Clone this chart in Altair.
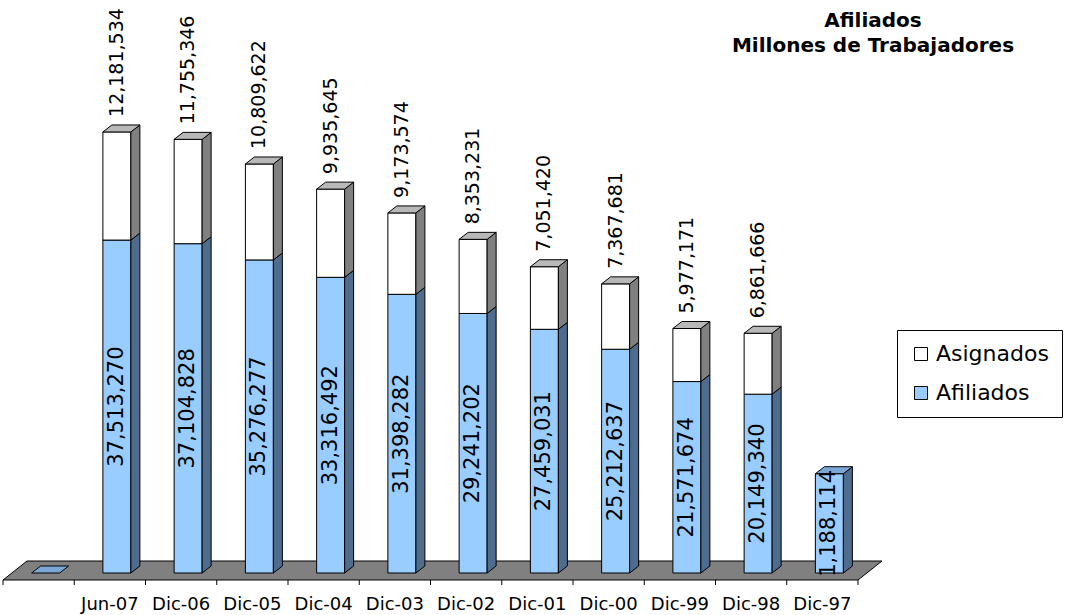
import altair as alt
import pandas as pd

# ---------------- data ----------------
categories = ["", "Jun-07", "Dic-06", "Dic-05", "Dic-04", "Dic-03", "Dic-02",
              "Dic-01", "Dic-00", "Dic-99", "Dic-98", "Dic-97"]
afiliados = [0, 37513270, 37104828, 35276277, 33316492, 31398282, 29241202,
             27459031, 25212637, 21571674, 20149340, 11188114]
asignados = [0, 12181534, 11755346, 10809622, 9935645, 9173574, 8353231,
             7051420, 7367681, 5977171, 6861666, 0]
afiliados_labels = ["", "37,513,270", "37,104,828", "35,276,277", "33,316,492",
                    "31,398,282", "29,241,202", "27,459,031", "25,212,637",
                    "21,571,674", "20,149,340", "1,188,114"]
asignados_labels = ["", "12,181,534", "11,755,346", "10,809,622", "9,935,645",
                    "9,173,574", "8,353,231", "7,051,420", "7,367,681",
                    "5,977,171", "6,861,666", ""]
series = ["Asignados", "Afiliados"]
title_lines = ["Afiliados", "Millones de Trabajadores"]

# ---------------- geometry / style ----------------
W, H = 1065, 580
PAD_BOTTOM = 35
PX_CAT = 71.25      # pixels per category
PX_M = 8.875        # pixels per million
X_LEFT = 3
Y_BASE = 573
XMIN = -X_LEFT / PX_CAT
XMAX = XMIN + W / PX_CAT
YMIN = -(H - Y_BASE) / PX_M
YMAX = YMIN + H / PX_M
FRONT_L = -7 / PX_CAT
FRONT_R = 21 / PX_CAT
DX = 9 / PX_CAT
DY = 7 / PX_M
FLOOR_DX = 24 / PX_CAT
FLOOR_DY = 19 / PX_M
LABEL_GAP = 15 / PX_M

BLUE = "#99CCFF"
BLUE_SIDE = "#4F6B8D"
BLUE_TOP = "#7BA7D6"
WHITE_SIDE = "#808080"
WHITE_TOP = "#B8B8B8"
FLOOR = "#808080"
FONT = "DejaVu Sans"

xs = alt.Scale(domain=[XMIN, XMAX], nice=False, zero=False)
ys = alt.Scale(domain=[YMIN, YMAX], nice=False, zero=False)

front, side, top, inner_lab, top_lab, cat_lab = [], [], [], [], [], []
seg_id = 0
for i, cat in enumerate(categories):
    c = i + 0.5
    a = afiliados[i] / 1e6
    s = asignados[i] / 1e6
    xl, xr = c + FRONT_L, c + FRONT_R
    segs = []
    if a > 0:
        segs.append(("Afiliados", 0.0, a, BLUE_SIDE))
    if s > 0:
        segs.append(("Asignados", a, a + s, WHITE_SIDE))
    for name, y0, y1, sc in segs:
        front.append(dict(series=name, x=xl, x2=xr, y=y0, y2=y1))
        side.append(dict(id=seg_id, fill=sc, x=xr, y=y0, y2=y1))
        side.append(dict(id=seg_id, fill=sc, x=xr + DX, y=y0 + DY, y2=y1 + DY))
        seg_id += 1
    tot = a + s
    tc = WHITE_TOP if s > 0 else BLUE_TOP
    top.append(dict(id=i, fill=tc, y=tot, x=xl, x2=xr))
    top.append(dict(id=i, fill=tc, y=tot + DY, x=xl + DX, x2=xr + DX))
    xm = (xl + xr) / 2
    if afiliados_labels[i]:
        inner_lab.append(dict(x=xm, y=a / 2, t=afiliados_labels[i]))
    if asignados_labels[i]:
        top_lab.append(dict(x=xm, y=tot + LABEL_GAP, t=asignados_labels[i]))
    cat_lab.append(dict(x=c, t=cat))

n = len(categories)
floor_df = pd.DataFrame([
    dict(y=YMIN, x=0.0, x2=float(n)),
    dict(y=YMIN + FLOOR_DY, x=FLOOR_DX, x2=n + FLOOR_DX),
])
ticks_df = pd.DataFrame(dict(x=[float(k) for k in range(n + 1)]))

floor = alt.Chart(floor_df).mark_area(
    orient="horizontal", fill=FLOOR, stroke="black", strokeWidth=1
).encode(
    y=alt.Y("y:Q", scale=ys, axis=None, stack=None),
    x=alt.X("x:Q", scale=xs, axis=None),
    x2="x2:Q",
)

ticks = alt.Chart(ticks_df).mark_rule(color="black", strokeWidth=1).encode(
    x=alt.X("x:Q", scale=xs, axis=None),
    y=alt.Y("y0:Q", scale=ys, axis=None),
    y2=alt.value(H + 5),
).transform_calculate(y0=str(YMIN))

fronts = alt.Chart(pd.DataFrame(front)).mark_rect(stroke="black", strokeWidth=1).encode(
    x=alt.X("x:Q", scale=xs, axis=None),
    x2="x2:Q",
    y=alt.Y("y:Q", scale=ys, axis=None),
    y2="y2:Q",
    color=alt.Color(
        "series:N",
        scale=alt.Scale(domain=series, range=["#FFFFFF", BLUE]),
        legend=alt.Legend(
            title=None, orient="none", legendX=897, legendY=330,
            symbolType="square", symbolSize=169, symbolStrokeColor="black",
            symbolStrokeWidth=1, labelFont=FONT, labelFontSize=22,
            labelColor="black", strokeColor="black", fillColor="white",
            padding=13, rowPadding=17, labelOffset=4, labelLimit=300,
        ),
    ),
)

sides = alt.Chart(pd.DataFrame(side)).mark_area(
    orient="vertical", stroke="black", strokeWidth=1
).encode(
    x=alt.X("x:Q", scale=xs, axis=None),
    y=alt.Y("y:Q", scale=ys, axis=None, stack=None),
    y2="y2:Q",
    fill=alt.Fill("fill:N", scale=None),
    detail="id:N",
)

tops = alt.Chart(pd.DataFrame(top)).mark_area(
    orient="horizontal", stroke="black", strokeWidth=1
).encode(
    y=alt.Y("y:Q", scale=ys, axis=None, stack=None),
    x=alt.X("x:Q", scale=xs, axis=None),
    x2="x2:Q",
    fill=alt.Fill("fill:N", scale=None),
    detail="id:N",
)

inner_text = alt.Chart(pd.DataFrame(inner_lab)).mark_text(
    angle=270, align="center", baseline="middle", font=FONT, fontSize=21, color="black"
).encode(
    x=alt.X("x:Q", scale=xs, axis=None),
    y=alt.Y("y:Q", scale=ys, axis=None),
    text="t:N",
)

top_text = alt.Chart(pd.DataFrame(top_lab)).mark_text(
    angle=270, align="left", baseline="middle", font=FONT, fontSize=19, color="black"
).encode(
    x=alt.X("x:Q", scale=xs, axis=None),
    y=alt.Y("y:Q", scale=ys, axis=None),
    text="t:N",
)

cat_text = alt.Chart(pd.DataFrame(cat_lab)).mark_text(
    align="center", baseline="alphabetic", font=FONT, fontSize=18, color="black"
).encode(
    x=alt.X("x:Q", scale=xs, axis=None),
    y=alt.value(H + 30),
    text="t:N",
)

title = alt.Chart(pd.DataFrame({"k": [0]})).mark_text(
    text=title_lines, align="center", baseline="alphabetic", font=FONT,
    fontSize=20, fontWeight="bold", lineHeight=25, color="black"
).encode(
    x=alt.value(873),
    y=alt.value(27),
)

chart = alt.layer(
    floor, ticks, fronts, sides, tops, inner_text, top_text, cat_text, title
).properties(
    width=W, height=H, autosize="none",
    padding={"left": 0, "top": 0, "right": 0, "bottom": PAD_BOTTOM},
    background="white",
).configure_view(stroke=None)

chart.save("out.html", embed_options={"renderer": "svg", "actions": False})
